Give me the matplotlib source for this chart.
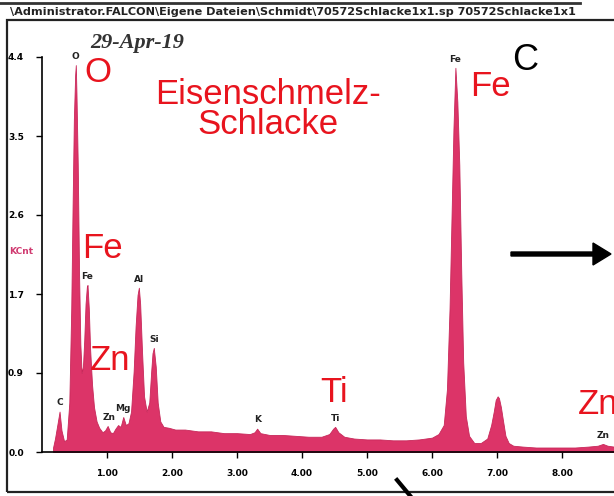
import matplotlib.pyplot as plt
from matplotlib.patches import FancyArrow

# EDX spectrum outline (keV, KCnt)
energy = [0.17, 0.20, 0.24, 0.27, 0.30, 0.34, 0.38, 0.42, 0.45, 0.47, 0.49, 0.51, 0.52,
          0.53, 0.55, 0.57, 0.59, 0.61, 0.63, 0.65, 0.67, 0.69, 0.70, 0.72, 0.74, 0.77,
          0.80, 0.84, 0.88, 0.93, 0.97, 1.01, 1.05, 1.09, 1.13, 1.17, 1.21, 1.25, 1.29,
          1.33, 1.37, 1.41, 1.44, 1.47, 1.49, 1.51, 1.54, 1.57, 1.61, 1.65, 1.68, 1.70,
          1.72, 1.75, 1.78, 1.82, 1.87, 1.95, 2.05, 2.2, 2.4, 2.6, 2.8, 3.0, 3.2, 3.27,
          3.31, 3.36, 3.5, 3.7, 3.9, 4.1, 4.3, 4.42, 4.48, 4.51, 4.56, 4.65, 4.8, 5.0,
          5.2, 5.4, 5.6, 5.8, 6.0, 6.1, 6.18, 6.23, 6.27, 6.30, 6.33, 6.36, 6.39, 6.42,
          6.45, 6.48, 6.52, 6.57, 6.65, 6.75, 6.85, 6.91, 6.95, 6.98, 7.01, 7.03, 7.06,
          7.09, 7.13, 7.18, 7.25, 7.4, 7.6, 7.8, 8.0, 8.2, 8.4, 8.55, 8.63, 8.7, 8.8,
          9.0, 9.2]
counts = [0.05, 0.15, 0.32, 0.45, 0.24, 0.12, 0.14, 0.55, 1.6, 2.7, 3.7, 4.2, 4.31,
          4.0, 3.2, 2.0, 1.2, 0.88, 0.95, 1.25, 1.65, 1.84, 1.86, 1.6, 1.15, 0.75,
          0.5, 0.34, 0.27, 0.22, 0.24, 0.29, 0.22, 0.21, 0.26, 0.30, 0.28, 0.39, 0.30,
          0.32, 0.45, 0.90, 1.40, 1.75, 1.83, 1.65, 1.10, 0.62, 0.45, 0.55, 0.90, 1.10,
          1.16, 0.95, 0.55, 0.34, 0.28, 0.27, 0.25, 0.25, 0.23, 0.23, 0.21, 0.21, 0.20, 0.22,
          0.26, 0.21, 0.19, 0.19, 0.18, 0.17, 0.17, 0.20, 0.26, 0.28, 0.22, 0.17, 0.15, 0.14,
          0.14, 0.13, 0.13, 0.14, 0.16, 0.20, 0.30, 0.7, 1.6, 2.6, 3.6, 4.28, 3.9, 3.2,
          2.0, 1.0, 0.40, 0.18, 0.10, 0.10, 0.15, 0.30, 0.45, 0.58, 0.62, 0.60, 0.50,
          0.36, 0.18, 0.10, 0.07, 0.06, 0.05, 0.05, 0.05, 0.05, 0.06, 0.07, 0.09, 0.07, 0.06,
          0.05, 0.05]

peak_names = ['C', 'O', 'Fe', 'Zn', 'Mg', 'Al', 'Si', 'K', 'Ti', 'Fe', 'Zn']
peak_e = [0.27, 0.52, 0.70, 1.03, 1.25, 1.49, 1.72, 3.31, 4.51, 6.36, 8.63]
peak_h = [0.45, 4.31, 1.86, 0.29, 0.39, 1.83, 1.16, 0.26, 0.28, 4.28, 0.09]

ytick_vals = [0, 0.88, 1.76, 2.64, 3.52, 4.4]
ytick_text = ['0.0', '0.9', '1.7', '2.6', '3.5', '4.4']
xtick_vals = [1, 2, 3, 4, 5, 6, 7, 8, 9]

W, H = 614, 496
fig = plt.figure(figsize=(W / 100, H / 100), dpi=100)


def px(x, y):
    return x / W, 1 - y / H


# axes placed in pixel units: 0 keV at x=42, 65 px per keV, 0..4.4 over y 452..57
ax = fig.add_axes([42 / W, (H - 452) / H, 9.2 * 65 / W, 395 / H])
ax.fill_between(energy, counts, 0, color='#dc3468', lw=0.6, edgecolor='#c8285a')
ax.set_xlim(0, 9.2)
ax.set_ylim(0, 4.4)
ax.spines['top'].set_visible(False)
ax.spines['right'].set_visible(False)
ax.spines['left'].set_linewidth(1.2)
ax.spines['bottom'].set_linewidth(1.2)
ax.set_yticks(ytick_vals)
ax.set_yticklabels(ytick_text, fontsize=6.5, fontweight='bold')
ax.set_xticks(xtick_vals)
ax.set_xticklabels(['%.2f' % v for v in xtick_vals], fontsize=6.5, fontweight='bold')
ax.tick_params(axis='y', length=4, width=1, pad=9)
ax.tick_params(axis='x', length=4, width=1, pad=8)
ax.patch.set_alpha(0)

for name, e, h in zip(peak_names, peak_e, peak_h):
    ax.annotate(name, (e, h), xytext=(0, 3), textcoords='offset points',
                ha='center', va='bottom', fontsize=6.5, fontweight='bold', color='#222222')

# frame and header of the scanned printout
fig.add_artist(plt.Line2D([0, 580 / W], [1 - 3 / H] * 2, color='#333333', lw=2))
fig.add_artist(plt.Rectangle(px(7, 492), (W + 20) / W, 472 / H, fill=False,
                             ec='#222222', lw=1.6))
fig.text(*px(10, 12), r'\Administrator.FALCON\Eigene Dateien\Schmidt\70572Schlacke1x1.sp 70572Schlacke1x1',
         fontsize=8.1, fontweight='bold', va='center', ha='left', color='#222222')
fig.text(*px(90, 43), '29-Apr-19', fontsize=16, fontweight='bold', style='italic',
         family='Liberation Serif', va='center', ha='left', color='#333333')
fig.text(*px(9, 252), 'KCnt', fontsize=6.5, fontweight='bold', color='#d03a70',
         va='center', ha='left')

# red annotations
red = '#e8141e'
big = dict(family='Liberation Sans', fontsize=25, color=red, va='center')
fig.text(*px(84, 73), 'O', ha='left', **big)
fig.text(*px(268, 95), 'Eisenschmelz-', ha='center', **big)
fig.text(*px(268, 125), 'Schlacke', ha='center', **big)
fig.text(*px(470, 86), 'Fe', ha='left', **big)
fig.text(*px(82, 248), 'Fe', ha='left', **big)
fig.text(*px(90, 360), 'Zn', ha='left', **big)
fig.text(*px(320, 392), 'Ti', ha='left', **big)
fig.text(*px(578, 405), 'Zn', ha='left', **big)
fig.text(*px(512, 60), 'C', ha='left', family='Liberation Sans', fontsize=26,
         color='black', va='center')

# black arrows drawn over the scan
fig.add_artist(FancyArrow(511 / W, 1 - 254 / H, 100 / W, 0, width=4 / H,
                          head_width=22 / H, head_length=18 / W,
                          length_includes_head=True, color='black'))
fig.add_artist(plt.Line2D([397 / W, 412 / W], [1 - 480 / H, 1 - 498 / H],
                          color='black', lw=3))

fig.savefig('out.png', dpi=100)
